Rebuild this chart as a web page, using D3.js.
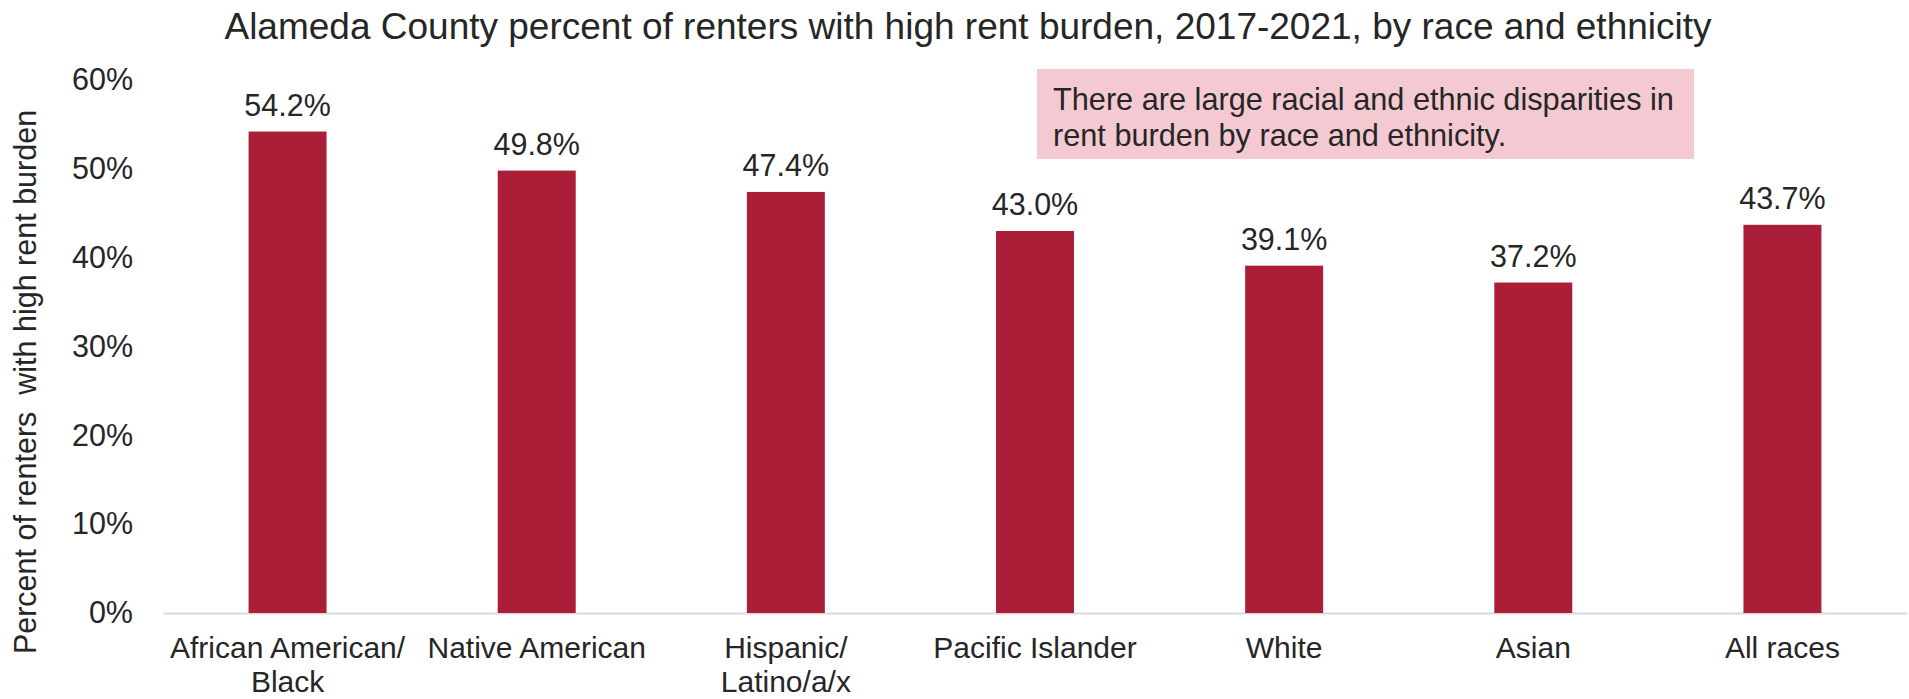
<!DOCTYPE html>
<html>
<head>
<meta charset="utf-8">
<script src="https://cdn.jsdelivr.net/npm/d3@7"></script>
<style>
  body { margin: 0; background: #fff; }
  text { font-family: "Liberation Sans", Arial, sans-serif; fill: #262626; }
</style>
</head>
<body>
<div id="chart"></div>
<script>
/* data */
var categories = ["African American/\nBlack", "Native American", "Hispanic/\nLatino/a/x", "Pacific Islander", "White", "Asian", "All races"];
var values = [54.2, 49.8, 47.4, 43.0, 39.1, 37.2, 43.7];
var yTicks = [0, 10, 20, 30, 40, 50, 60];
var noteLines = ["There are large racial and ethnic disparities in", "rent burden by race and ethnicity."];

/* constants */
var width = 1909;
var height = 699;
var barColor = "#ab1e37";

var svg = d3.select("#chart").append("svg")
            .attr("width", width)
            .attr("height", height);

var x = d3.scaleBand()
          .domain(categories)
          .range([163, 1907])
          .paddingInner(0.687)
          .paddingOuter(0.3435);

var y = d3.scaleLinear()
          .domain([0, 60])
          .range([613, 80]);

/* title */
svg.append("text")
   .attr("x", 968)
   .attr("y", 39)
   .attr("text-anchor", "middle")
   .style("font-size", "37px")
   .text("Alameda County percent of renters with high rent burden, 2017-2021, by race and ethnicity");

/* y axis */
var yAxis = svg.append("g")
               .attr("transform", "translate(163,0)")
               .call(d3.axisLeft(y).tickValues(yTicks).tickSize(0).tickPadding(30)
                       .tickFormat(function(d){ return d + "%"; }));
    yAxis.select(".domain").remove();
    yAxis.selectAll("text")
         .style("font-size", "30.5px")
         .style("font-family", "'Liberation Sans', Arial, sans-serif")
         .attr("fill", "#262626");

svg.append("text")
   .attr("transform", "translate(36,382) rotate(-90)")
   .attr("text-anchor", "middle")
   .style("font-size", "30.5px")
   .style("white-space", "pre")
   .text("Percent of renters  with high rent burden");

/* x axis */
var xAxis = svg.append("g")
               .attr("transform", "translate(0,613)")
               .call(d3.axisBottom(x).tickSize(0).tickSizeOuter(0));
    xAxis.select(".domain")
         .attr("stroke", "#d9d9d9")
         .attr("stroke-width", 2);
    xAxis.selectAll(".tick text").remove();
    xAxis.selectAll(".tick")
         .append("text")
         .attr("text-anchor", "middle")
         .style("font-size", "30px")
         .style("font-family", "'Liberation Sans', Arial, sans-serif")
         .attr("fill", "#262626")
         .selectAll("tspan")
         .data(function(d){ return d.split("\n"); })
         .enter()
            .append("tspan")
            .attr("x", 0)
            .attr("y", function(d, i){ return 45 + 34 * i; })
            .text(function(d){ return d; });

/* bars */
svg.selectAll("rect.bar")
   .data(values)
   .enter()
      .append("rect")
      .attr("class", "bar")
      .attr("x", function(d, i){ return x(categories[i]); })
      .attr("y", function(d){ return y(d); })
      .attr("width", x.bandwidth())
      .attr("height", function(d){ return y(0) - y(d); })
      .attr("fill", barColor);

/* value labels */
svg.selectAll("text.valueLabel")
   .data(values)
   .enter()
      .append("text")
      .attr("class", "valueLabel")
      .attr("x", function(d, i){ return x(categories[i]) + x.bandwidth() / 2; })
      .attr("y", function(d){ return y(d) - 16; })
      .attr("text-anchor", "middle")
      .style("font-size", "30.5px")
      .text(function(d){ return d.toFixed(1) + "%"; });

/* note box */
var note = svg.append("g");
    note.append("rect")
        .attr("x", 1037)
        .attr("y", 69)
        .attr("width", 657)
        .attr("height", 90)
        .attr("fill", "#f5c9d2");
    note.selectAll("text")
        .data(noteLines)
        .enter()
           .append("text")
           .attr("x", 1053)
           .attr("y", function(d, i){ return 110 + 36 * i; })
           .style("font-size", "30.7px")
           .text(function(d){ return d; });
</script>
</body>
</html>
